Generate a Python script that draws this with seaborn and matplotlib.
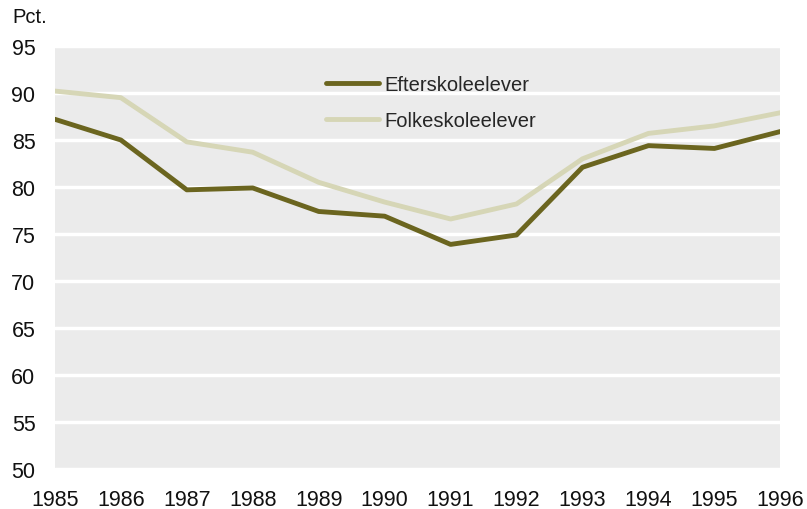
import matplotlib
matplotlib.use("Agg")
import matplotlib.pyplot as plt
import seaborn as sns
import pandas as pd

years = list(range(1985, 1997))
efterskole = [87.2, 85.0, 79.7, 79.9, 77.4, 76.9, 73.9, 74.9, 82.1, 84.4, 84.1, 85.9]
folkeskole = [90.2, 89.5, 84.8, 83.7, 80.5, 78.4, 76.6, 78.2, 83.0, 85.7, 86.5, 87.9]
series_names = ["Efterskoleelever", "Folkeskoleelever"]
y_ticks = [50, 55, 60, 65, 70, 75, 80, 85, 90, 95]

df = pd.DataFrame({
    "År": years * 2,
    "Pct": efterskole + folkeskole,
    "Gruppe": [series_names[0]] * len(years) + [series_names[1]] * len(years),
})

sns.set_theme(style="white")
plt.rcParams['font.family'] = ['Liberation Sans', 'DejaVu Sans']

fig = plt.figure(figsize=(8.07, 5.10), dpi=100)
ax = fig.add_axes([0.068, 0.078, 0.899, 0.83])
ax.set_facecolor("#ebebeb")

palette = {series_names[0]: "#6b651f", series_names[1]: "#d6d6b6"}
sns.lineplot(data=df, x="År", y="Pct", hue="Gruppe", palette=palette,
             linewidth=3.5, ax=ax, legend=True, zorder=3)

ax.set_xlim(1985, 1996)
ax.set_ylim(50, 95)
ax.set_yticks(y_ticks)
ax.set_xticks(years)
ax.set_xticklabels([str(y) for y in years])
for t in y_ticks:
    ax.axhline(t, color="white", linewidth=2.5, zorder=1)
for s in ax.spines.values():
    s.set_visible(False)
ax.tick_params(axis="both", length=0, labelsize=15.5, colors="#111111")
ax.tick_params(axis="x", pad=14)
ax.tick_params(axis="y", pad=14)
ax.set_xlabel("")
ax.set_ylabel("")

leg = ax.legend(loc="upper left", bbox_to_anchor=(0.349, 0.975), frameon=False,
                fontsize=14.5, handlelength=2.6, labelspacing=0.85, handletextpad=0.3)
for line in leg.get_lines():
    line.set_linewidth(3.5)

fig.text(0.015, 0.955, "Pct.", fontsize=14.5, color="#111111")

fig.savefig("out.png", dpi=100, facecolor="white")
